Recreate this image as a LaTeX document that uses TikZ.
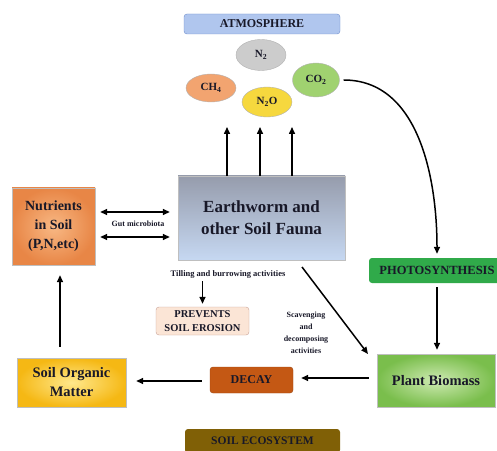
\documentclass[tikz,border=0pt]{standalone}
\usepackage{fontspec}
\setmainfont{Liberation Serif}
\usetikzlibrary{positioning,shapes.geometric,arrows.meta,calc}

\definecolor{atmofill}{RGB}{176,198,238}
\definecolor{atmodraw}{RGB}{112,142,204}
\definecolor{faunatop}{RGB}{150,156,172}
\definecolor{faunabot}{RGB}{198,216,242}
\definecolor{nutrin}{RGB}{248,184,132}
\definecolor{nutrout}{RGB}{232,134,70}
\definecolor{somin}{RGB}{255,232,140}
\definecolor{somout}{RGB}{245,184,20}
\definecolor{plantin}{RGB}{206,234,178}
\definecolor{plantout}{RGB}{122,190,76}
\definecolor{decayfill}{RGB}{196,88,20}
\definecolor{photofill}{RGB}{48,170,74}
\definecolor{prevfill}{RGB}{251,229,214}
\definecolor{prevdraw}{RGB}{200,160,150}
\definecolor{ecofill}{RGB}{128,96,6}
\definecolor{inktext}{RGB}{24,24,40}

\tikzset{
  gas/.style={ellipse, draw=gray!60, inner sep=0pt, text=inktext,
    font=\fontsize{11}{12}\selectfont\bfseries},
  box/.style={rectangle, draw=gray!50, align=center, inner sep=2pt, text=inktext},
  tag/.style={rectangle, rounded corners=3pt, align=center, inner sep=1pt, text=inktext,
    font=\fontsize{12}{13}\selectfont\bfseries},
  note/.style={align=center, inner sep=0pt, text=inktext,
    font=\fontsize{8}{12}\selectfont\bfseries},
  flow/.style={-{Triangle[length=7pt,width=6pt]}, line width=1.5pt},
  both/.style={{Triangle[length=7pt,width=6pt]}-{Triangle[length=7pt,width=6pt]}, line width=1.5pt}
}

\begin{document}
\begin{tikzpicture}
  \useasboundingbox (0pt,0pt) rectangle (497pt,450pt);

  % Atmosphere
  \node[tag, fill=atmofill, draw=atmodraw, minimum width=156pt, minimum height=20pt] (atmo) at (262pt, 426pt) {ATMOSPHERE};
  \node[gas, fill=gray!40, minimum width=50pt, minimum height=31pt] (n2) at (261pt, 395pt) {N\textsubscript{2}};
  \node[gas, fill={rgb,255:red,242;green,164;blue,112}, minimum width=50pt, minimum height=28pt] (ch4) at (211pt, 362pt) {CH\textsubscript{4}};
  \node[gas, fill={rgb,255:red,246;green,216;blue,62}, minimum width=50pt, minimum height=30pt] (n2o) at (267pt, 348pt) {N\textsubscript{2}O};
  \node[gas, fill={rgb,255:red,160;green,210;blue,112}, minimum width=47pt, minimum height=34pt] (co2) at (316pt, 370pt) {CO\textsubscript{2}};

  % Fauna
  \node[box, top color=faunatop, bottom color=faunabot, minimum width=167pt, minimum height=84pt,
    font=\fontsize{17}{22}\selectfont\bfseries] (fauna) at (261.5pt, 232pt) {Earthworm and\\other Soil Fauna};
  \coordinate (up1) at (227pt, 323pt);
  \coordinate (up2) at (260pt, 323pt);
  \coordinate (up3) at (292pt, 323pt);
  \draw[flow] (fauna.north -| up1) -- (up1);
  \draw[flow] (fauna.north -| up2) -- (up2);
  \draw[flow] (fauna.north -| up3) -- (up3);

  % Nutrients
  \node[box, inner color=nutrin, outer color=nutrout, minimum width=83pt, minimum height=77pt,
    font=\fontsize{14}{19}\selectfont\bfseries] (nutr) at (53.5pt, 223.5pt) {Nutrients\\in Soil\\(P,N,etc)};
  \draw[both, shorten <=5pt, shorten >=8pt] (nutr.east |- 0,238pt) -- (fauna.west |- 0,238pt);
  \draw[both, shorten <=5pt, shorten >=8pt] (nutr.east |- 0,213pt) -- (fauna.west |- 0,213pt);
  \node[note] (gut) at (138pt, 226pt) {Gut microbiota};

  % Tilling
  \node[note, font=\fontsize{8.5}{10}\selectfont\bfseries] (till) at (228pt, 176pt) {Tilling and burrowing activities};
  \node[tag, fill=prevfill, draw=prevdraw, minimum width=93pt, minimum height=28pt,
    font=\fontsize{10.5}{14}\selectfont\bfseries] (prev) at (202.5pt, 129pt) {PREVENTS\\SOIL EROSION};
  \draw[flow, shorten <=3pt, shorten >=3pt] (till.south -| prev.north) -- (prev.north);

  % Cycle
  \node[box, inner color=plantin, outer color=plantout, minimum width=118pt, minimum height=53pt,
    font=\fontsize{14.5}{18}\selectfont\bfseries] (plant) at (436pt, 69.5pt) {Plant Biomass};
  \node[tag, fill=photofill, minimum width=136pt, minimum height=25pt,
    font=\fontsize{12.5}{14}\selectfont\bfseries] (photo) at (437pt, 179.5pt) {PHOTOSYNTHESIS};
  \node[tag, fill=decayfill, draw=decayfill!80!black, minimum width=83pt, minimum height=26pt] (decay) at (251.5pt, 70pt) {DECAY};
  \node[box, inner color=somin, outer color=somout, minimum width=109pt, minimum height=49pt,
    font=\fontsize{14.5}{19}\selectfont\bfseries] (som) at (71.5pt, 67.5pt) {Soil Organic\\Matter};

  \draw[flow, shorten <=4pt, shorten >=4pt] (co2.east) to[out=0, in=90] (photo.north);
  \draw[flow, shorten <=4pt, shorten >=4pt] (photo.south) -- (plant.north -| photo.south);
  \draw[flow, shorten <=8pt, shorten >=8pt] (plant.west |- 0,72pt) -- (decay.east |- 0,72pt);
  \draw[flow, shorten <=8pt, shorten >=10pt] (decay.west |- 0,69pt) -- (som.east |- 0,69pt);
  \draw[flow, shorten <=11pt, shorten >=10pt] (som.north -| 60pt,0) -- (nutr.south -| 60pt,0);

  % Scavenging
  \coordinate (scavA) at (302pt, 183pt);
  \coordinate (scavB) at (368pt, 96pt);
  \draw[flow] (scavA) -- (scavB);
  \node[note] (scav) at (306pt, 117pt) {Scavenging\\and\\decomposing\\activities};

  % Ecosystem
  \node[tag, fill=ecofill, minimum width=155pt, minimum height=24pt,
    font=\fontsize{11.5}{13}\selectfont\bfseries] (eco) at (262.5pt, 9pt) {SOIL ECOSYSTEM};
\end{tikzpicture}
\end{document}
